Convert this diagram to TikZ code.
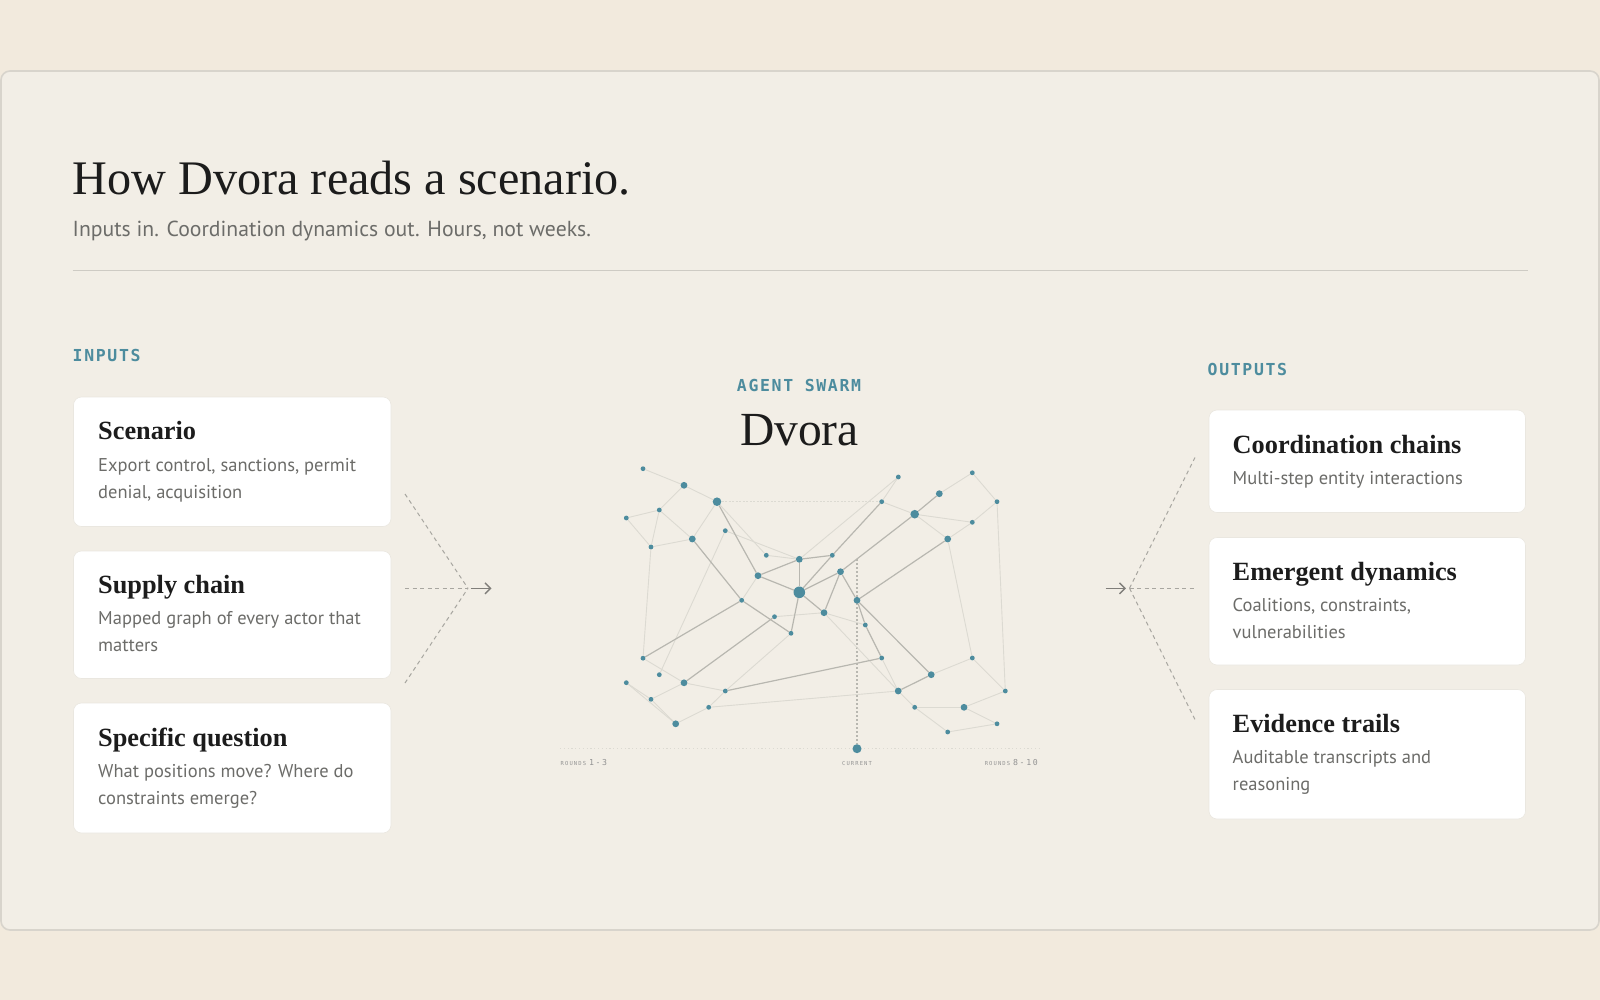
\documentclass[tikz,border=0pt]{standalone}
\usepackage{fontspec}
\setmainfont{Liberation Serif}
\newfontfamily\sansf{PT Sans}
\newfontfamily\monof{DejaVu Sans Mono}
\usetikzlibrary{arrows.meta}
\pgfdeclarelayer{back}
\pgfdeclarelayer{bg}
\pgfsetlayers{back,bg,main}

\definecolor{bgout}{RGB}{242,234,221}
\definecolor{panelc}{RGB}{242,238,230}
\definecolor{panelborder}{RGB}{216,212,204}
\definecolor{ink}{RGB}{28,28,28}
\definecolor{muted}{RGB}{108,108,105}
\definecolor{tealc}{RGB}{77,140,158}
\definecolor{edgeA}{RGB}{184,183,176}
\definecolor{edgeB}{RGB}{220,218,210}
\definecolor{rulec}{RGB}{206,203,196}
\definecolor{connc}{RGB}{168,166,160}
\definecolor{arrowc}{RGB}{128,126,122}
\definecolor{cardline}{RGB}{234,231,224}

\tikzset{
  card/.style={fill=white, draw=cardline, line width=0.6, rounded corners=8},
  ctitle/.style={anchor=base west, inner sep=0, text=ink, font=\bfseries\fontsize{26.3}{26.3}\selectfont},
  cdesc/.style={anchor=base west, inner sep=0, text=muted, align=left, font=\sansf\fontsize{18.5}{26.8}\selectfont},
  seclabel/.style={inner sep=0, text=tealc, font=\monof\bfseries\fontsize{16.5}{16.5}\selectfont\addfontfeature{LetterSpace=10}},
  dot/.style={circle, fill=tealc, inner sep=0, minimum size=#1},
  eA/.style={draw=edgeA, line width=1.2},
  eB/.style={draw=edgeB, line width=0.9},
  fan/.style={draw=connc, line width=1, dash pattern=on 4 off 3.5},
  arr/.style={draw=arrowc, line width=1.4, -{Straight Barb[length=5.5,width=11,line width=1.4]}},
  tinylab/.style={inner sep=0, text=gray!85, font=\monof\fontsize{5.5}{5.5}\selectfont\addfontfeature{LetterSpace=20}}
}

\begin{document}
\begin{tikzpicture}[x=1pt,y=-1pt]
\useasboundingbox (0,0) rectangle (1600,1000);
\begin{pgfonlayer}{back}
\fill[bgout] (0,0) rectangle (1600,1000);
\draw[panelborder, fill=panelc, line width=1.6, rounded corners=9] (1,71) rectangle (1599,930);
\end{pgfonlayer}

% header
\node[anchor=base west, inner sep=0, text=ink, font=\fontsize{48.2}{48.2}\selectfont] (title) at (72.5,195) {How Dvora reads a scenario.};
\node[anchor=base west, inner sep=0, text=muted, font=\sansf\fontsize{21.7}{21.7}\selectfont] (sub) at (72.5,237) {Inputs in. Coordination dynamics out. Hours, not weeks.};
\coordinate (ruleL) at (72.5,270.5);
\coordinate (ruleR) at (1527.5,270.5);
\draw[rulec, line width=1.2] (ruleL) -- (ruleR);

% section labels
\node[seclabel, anchor=base west] (inputs) at (72.5,361.5) {INPUTS};
\node[seclabel, anchor=base] (swarm) at (799,391.5) {AGENT SWARM};
\node[seclabel, anchor=base west] (outputs) at (1207.5,375.5) {OUTPUTS};
\node[anchor=base, inner sep=0, text=ink, font=\fontsize{47.5}{47.5}\selectfont] (dvora) at (799.5,445.5) {Dvora};

% input cards
\draw[card] (73.5,397) rectangle (391,526.5);
\draw[card] (73.5,551) rectangle (391,678.5);
\draw[card] (73.5,703) rectangle (391,833);
\node[ctitle] (in1) at (98,439) {Scenario};
\node[cdesc] (in1d) at (98,498) {Export control, sanctions, permit\\denial, acquisition};
\node[ctitle] (in2) at (98,593) {Supply chain};
\node[cdesc] (in2d) at (98,651.5) {Mapped graph of every actor that\\matters};
\node[ctitle] (in3) at (98,746) {Specific question};
\node[cdesc] (in3d) at (98,804.5) {What positions move? Where do\\constraints emerge?};

% output cards
\draw[card] (1209,410) rectangle (1525.5,512.5);
\draw[card] (1209,537.5) rectangle (1525.5,665);
\draw[card] (1209,689.5) rectangle (1525.5,819);
\node[ctitle] (out1) at (1232.5,453.3) {Coordination chains};
\node[cdesc] (out1d) at (1232.5,484) {Multi-step entity interactions};
\node[ctitle] (out2) at (1232.5,580) {Emergent dynamics};
\node[cdesc] (out2d) at (1232.5,638) {Coalitions, constraints,\\vulnerabilities};
\node[ctitle] (out3) at (1232.5,732.3) {Evidence trails};
\node[cdesc] (out3d) at (1232.5,790.5) {Auditable transcripts and\\reasoning};

% left fan
\coordinate (lf1) at (405,494);
\coordinate (lf2) at (405,588.3);
\coordinate (lf3) at (405,683);
\coordinate (lfo) at (468,588.3);
\coordinate (la1) at (470.5,588.3);
\coordinate (la2) at (491.5,588.3);
\draw[fan] (lf1) -- (lfo);
\draw[fan] (lf2) -- (lfo);
\draw[fan] (lf3) -- (lfo);
\draw[arr] (la1) -- (la2);

% right fan
\coordinate (ra1) at (1105.5,588.3);
\coordinate (ra2) at (1126,588.3);
\coordinate (rfo) at (1129.5,588.3);
\coordinate (rf1) at (1195,457.5);
\coordinate (rf2) at (1195,588.3);
\coordinate (rf3) at (1195,719.5);
\draw[arr] (ra1) -- (ra2);
\draw[fan] (rfo) -- (rf1);
\draw[fan] (rfo) -- (rf2);
\draw[fan] (rfo) -- (rf3);

% network nodes
\node[dot=4.8] (n1) at (643,468.7) {};
\node[dot=6.8] (n2) at (684,485.3) {};
\node[dot=8.6] (n3) at (717,501.7) {};
\node[dot=4.8] (n4) at (659.3,510) {};
\node[dot=4.8] (n5) at (626.3,518) {};
\node[dot=4.8] (n6) at (725.3,530.7) {};
\node[dot=6.8] (n7) at (692.3,539) {};
\node[dot=4.8] (n8) at (651,547) {};
\node[dot=4.8] (n9) at (766.3,555.3) {};
\node[dot=6.8] (n10) at (799.3,559.3) {};
\node[dot=4.8] (n11) at (832.3,555.3) {};
\node[dot=6.8] (n12) at (758,575.7) {};
\node[dot=11.6] (n13) at (799.3,592.3) {};
\node[dot=6.8] (n14) at (840.5,571.7) {};
\node[dot=4.8] (n15) at (741.7,600.3) {};
\node[dot=6.8] (n16) at (857,600.3) {};
\node[dot=6.8] (n17) at (824,612.7) {};
\node[dot=4.8] (n18) at (774.5,616.7) {};
\node[dot=4.8] (n19) at (865.3,625) {};
\node[dot=4.8] (n20) at (791,633.3) {};
\node[dot=4.8] (n21) at (643,658.2) {};
\node[dot=4.8] (n22) at (659.3,674.7) {};
\node[dot=6.8] (n23) at (684,682.8) {};
\node[dot=4.8] (n24) at (626.3,682.7) {};
\node[dot=4.8] (n25) at (725.3,691) {};
\node[dot=4.8] (n26) at (651,699.3) {};
\node[dot=4.8] (n27) at (708.7,707.3) {};
\node[dot=6.8] (n28) at (675.7,723.8) {};
\node[dot=4.8] (n29) at (881.7,658) {};
\node[dot=6.8] (n30) at (931.2,674.7) {};
\node[dot=6.8] (n31) at (898.2,691) {};
\node[dot=4.8] (n32) at (914.7,707.3) {};
\node[dot=6.8] (n33) at (964,707.3) {};
\node[dot=4.8] (n34) at (997,723.8) {};
\node[dot=4.8] (n35) at (947.7,732) {};
\node[dot=4.8] (n36) at (1005.3,691) {};
\node[dot=4.8] (n37) at (972.3,658) {};
\node[dot=4.8] (n38) at (898.3,477) {};
\node[dot=4.8] (n39) at (881.7,501.7) {};
\node[dot=6.8] (n40) at (939.3,493.7) {};
\node[dot=4.8] (n41) at (972.3,472.8) {};
\node[dot=4.8] (n42) at (997,501.7) {};
\node[dot=8.6] (n43) at (914.7,514.2) {};
\node[dot=4.8] (n44) at (972.3,522.3) {};
\node[dot=6.8] (n45) at (947.7,539) {};
\node[dot=9] (n46) at (857,748.7) {};
\coordinate (curtop) at (857,559);
\coordinate (axL) at (560,748.7);
\coordinate (axR) at (1040,748.7);

\begin{pgfonlayer}{bg}
  % axis and current marker
  \draw[edgeB, line width=1.2, dash pattern=on 1.2 off 2.6] (axL) -- (axR);
  \draw[edgeA, line width=1.2, dash pattern=on 1.5 off 2.5] (curtop) -- (n46);
  % faint edges
  \foreach \a/\b in {1/2,2/3,2/4,4/5,5/8,4/8,4/7,8/7,3/7,3/9,6/10,9/10,6/22,8/21,12/15,10/38,38/39,39/43,40/41,41/42,42/44,43/44,43/45,44/45,45/37,42/36,18/17,20/25,21/23,23/25,23/26,24/26,24/28,26/28,28/27,27/25,27/31,17/19,17/31,29/31,30/37,37/36,36/33,31/32,32/33,32/35,33/34,34/35}
    \draw[eB] (n\a) -- (n\b);
  \draw[edgeB, line width=1, dash pattern=on 2 off 1.5] (n3) -- (n39);
  % stronger edges
  \foreach \a/\b in {3/12,7/15,12/10,12/13,10/13,10/11,15/21,15/20,13/20,18/23,25/29,13/11,11/39,43/40,43/14,45/16,13/14,14/17,14/16,13/17,16/19,19/29,16/30,30/31}
    \draw[eA] (n\a) -- (n\b);
\end{pgfonlayer}

% axis labels
\node[anchor=base west, inner sep=0, text=gray!85] (r13) at (560.5,765.5) {\monof\fontsize{5.5}{5.5}\selectfont\addfontfeature{LetterSpace=20}ROUNDS\hspace{3pt}\fontsize{8.2}{8.2}\selectfont 1-3};
\node[tinylab, anchor=base] (cur) at (857,765.5) {CURRENT};
\node[anchor=base east, inner sep=0, text=gray!85] (r810) at (1038,765.5) {\monof\fontsize{5.5}{5.5}\selectfont\addfontfeature{LetterSpace=20}ROUNDS\hspace{3pt}\fontsize{8.2}{8.2}\selectfont 8-10};
\end{tikzpicture}
\end{document}
